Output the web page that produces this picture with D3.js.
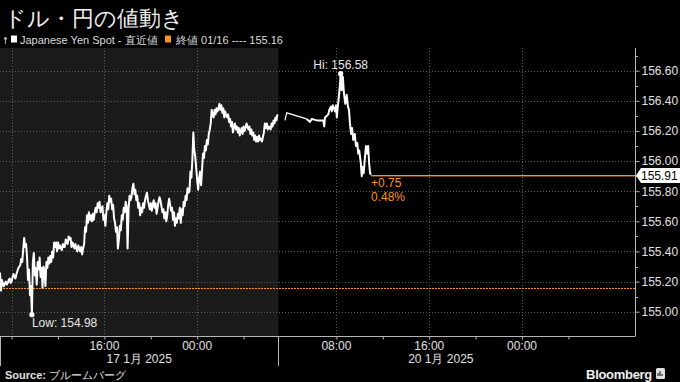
<!DOCTYPE html>
<html><head><meta charset="utf-8">
<script src="https://cdn.jsdelivr.net/npm/d3@7"></script>
<style>
html,body{margin:0;padding:0;background:#000;}
svg{display:block;}
text{font-family:"Liberation Sans",Arial,sans-serif;}
</style></head><body>
<svg id="chart" width="680" height="382"></svg>
<script>
// ---------------- DATA ----------------
const titleText = "ドル・円の値動き";
const seriesName = "Japanese Yen Spot - 直近値";
const prevCloseLegend = "終値 01/16 ---- 155.16";
const prevClose = 155.16;
const changeAbsText = "+0.75";
const changePctText = "0.48%";
const yTickValues = [155.0, 155.2, 155.4, 155.6, 155.8, 156.0, 156.2, 156.4, 156.6];
const yMinorValues = [155.1, 155.3, 155.5, 155.7, 155.9, 156.1, 156.3, 156.5, 156.7];

// Session 1 (17 Jan): 5-minute samples starting 07:00
const session1Start = "2025-01-17T07:00";
const session1StepMin = 5;
const session1Prices = [
155.26,155.14,155.21,155.18,155.17,155.19,155.20,155.18,155.19,155.21,
155.22,155.19,155.20,155.23,155.25,155.23,155.22,155.25,155.27,155.29,
155.30,155.31,155.35,155.33,155.41,155.49,155.43,155.45,155.36,155.21,
155.28,155.11,155.17,154.98,155.33,155.39,155.24,155.29,155.18,155.33,
155.28,155.36,155.23,155.29,155.16,155.30,155.27,155.17,155.33,155.29,
155.36,155.32,155.37,155.33,155.40,155.36,155.46,155.43,155.46,155.40,
155.46,155.42,155.44,155.42,155.41,155.45,155.43,155.43,155.48,155.46,
155.45,155.50,155.48,155.49,155.43,155.46,155.44,155.42,155.45,155.42,
155.40,155.44,155.42,155.40,155.43,155.38,155.42,155.45,155.56,155.53,
155.64,155.59,155.66,155.61,155.64,155.60,155.65,155.61,155.66,155.69,
155.66,155.72,155.69,155.73,155.66,155.68,155.70,155.61,155.64,155.57,
155.66,155.72,155.68,155.77,155.73,155.75,155.68,155.71,155.62,155.59,
155.53,155.56,155.42,155.48,155.57,155.54,155.64,155.61,155.69,155.66,
155.73,155.70,155.42,155.68,155.77,155.74,155.76,155.82,155.85,155.78,
155.81,155.74,155.77,155.69,155.72,155.64,155.69,155.66,155.72,155.69,
155.74,155.77,155.79,155.74,155.71,155.68,155.72,155.67,155.71,155.74,
155.69,155.72,155.65,155.69,155.73,155.76,155.74,155.70,155.66,155.68,
155.62,155.66,155.60,155.64,155.71,155.75,155.71,155.67,155.69,155.61,
155.66,155.57,155.62,155.59,155.65,155.62,155.69,155.59,155.68,155.64,
155.73,155.70,155.77,155.74,155.82,155.79,155.80,155.93,155.89,156.01,
156.19,156.07,156.03,155.95,155.87,155.81,155.89,155.93,155.84,155.94,
156.05,156.02,156.10,156.07,156.14,156.11,156.18,156.21,156.25,156.34,
156.31,156.29,156.34,156.31,156.35,156.33,156.35,156.38,156.34,156.37,
156.32,156.35,156.29,156.33,156.30,156.29,156.31,156.26,156.28,156.23,
156.26,156.19,156.23,156.25,156.21,156.23,156.19,156.22,156.17,156.20,
156.22,156.18,156.23,156.20,156.22,156.25,156.23,156.21,156.23,156.18,
156.21,156.17,156.19,156.14,156.17,156.13,156.16,156.13,156.17,156.14,
156.15,156.13,156.16,156.19,156.25,156.22,156.25,156.21,156.23,156.22,
156.21,156.25,156.23,156.27,156.25,156.29,156.27,156.31
];

// Session 2 (20 Jan)
const session2Times = [
"2025-01-20T03:34","2025-01-20T03:43","2025-01-20T05:26","2025-01-20T05:35","2025-01-20T05:43",
"2025-01-20T05:52","2025-01-20T06:18","2025-01-20T06:52","2025-01-20T06:57","2025-01-20T07:01",
"2025-01-20T07:10","2025-01-20T07:18","2025-01-20T07:23","2025-01-20T07:31","2025-01-20T07:36",
"2025-01-20T07:41","2025-01-20T07:48","2025-01-20T07:53","2025-01-20T07:58","2025-01-20T08:02",
"2025-01-20T08:07","2025-01-20T08:13","2025-01-20T08:19","2025-01-20T08:22","2025-01-20T08:27",
"2025-01-20T08:33","2025-01-20T08:39","2025-01-20T08:46","2025-01-20T08:53","2025-01-20T09:00",
"2025-01-20T09:05","2025-01-20T09:10","2025-01-20T09:16","2025-01-20T09:21","2025-01-20T09:27",
"2025-01-20T09:35","2025-01-20T09:41","2025-01-20T09:48","2025-01-20T09:53","2025-01-20T09:58",
"2025-01-20T10:06","2025-01-20T10:11","2025-01-20T10:16","2025-01-20T10:21","2025-01-20T10:28",
"2025-01-20T10:33","2025-01-20T10:38","2025-01-20T10:44","2025-01-20T10:49","2025-01-20T10:54",
"2025-01-20T10:59"
];
const session2Prices = [
156.27,156.32,156.28,156.27,156.26,
156.28,156.27,156.27,156.23,156.29,
156.30,156.31,156.34,156.36,156.33,
156.37,156.35,156.33,156.37,156.29,
156.36,156.43,156.52,156.58,156.47,
156.56,156.45,156.38,156.44,156.36,
156.34,156.25,156.18,156.22,156.14,
156.18,156.10,156.12,156.05,156.07,
155.99,155.90,155.96,155.92,156.03,
156.10,156.05,156.10,155.99,155.92,
155.91
];

// Axis time structure
const axisBreaks = ["2025-01-17T07:00","2025-01-18T07:00","2025-01-20T03:00","2025-01-21T09:39"];
const minorTickTimes = ["2025-01-17T08:00","2025-01-17T12:00","2025-01-17T16:00","2025-01-17T20:00",
  "2025-01-18T00:00","2025-01-18T04:00","2025-01-20T08:00","2025-01-20T12:00","2025-01-20T16:00",
  "2025-01-20T20:00","2025-01-21T00:00","2025-01-21T04:00"];
const gridTimes = ["2025-01-17T08:00","2025-01-17T16:00","2025-01-18T00:00","2025-01-20T08:00","2025-01-20T16:00","2025-01-21T00:00"];
const labelTimes = ["2025-01-17T16:00","2025-01-18T00:00","2025-01-20T08:00","2025-01-20T16:00","2025-01-21T00:00"];
const dateLabels = [{t:"2025-01-17T19:00", text:"17 1月 2025"}, {t:"2025-01-20T17:00", text:"20 1月 2025"}];

// ---------------- CHART ----------------
const parse = d3.timeParse("%Y-%m-%dT%H:%M");
const fmtHM = d3.timeFormat("%H:%M");
const svg = d3.select("#chart");
const W = 680, H = 382;
const plotTop = 48, plotBottom = 336.5, plotLeft = 0, plotRight = 635;
const ORANGE = "#f7931e";

svg.append("rect").attr("width", W).attr("height", H).attr("fill", "#000");

const x = d3.scaleTime()
  .domain(axisBreaks.map(parse))
  .range([0, 278.4, 278.4, 634]);
const y = d3.scaleLinear().domain([155.0, 156.6]).range([311.7, 70.7]);

const s1start = parse(session1Start);
const s1 = session1Prices.map((p, i) => ({t: d3.timeMinute.offset(s1start, i * session1StepMin), v: p}));
const s2 = session2Times.map((t, i) => ({t: parse(t), v: session2Prices[i]}));
const last = s2[s2.length - 1];

// previous session shading
svg.append("rect")
  .attr("x", x(parse(axisBreaks[0]))).attr("y", plotTop)
  .attr("width", x(parse(axisBreaks[1])) - x(parse(axisBreaks[0])))
  .attr("height", plotBottom - plotTop)
  .attr("fill", "#1b1b1b");

// horizontal gridlines
svg.append("g").selectAll("line").data(yTickValues).join("line")
  .attr("x1", plotLeft).attr("x2", plotRight)
  .attr("y1", d => Math.round(y(d)) + 0.5).attr("y2", d => Math.round(y(d)) + 0.5)
  .attr("stroke", "#5e5e5e").attr("stroke-width", 1).attr("stroke-dasharray", "1,2");

// vertical gridlines
svg.append("g").selectAll("line").data(gridTimes).join("line")
  .attr("x1", d => Math.round(x(parse(d))) + 0.5).attr("x2", d => Math.round(x(parse(d))) + 0.5)
  .attr("y1", plotTop).attr("y2", plotBottom)
  .attr("stroke", "#5e5e5e").attr("stroke-width", 1).attr("stroke-dasharray", "1,2");

// previous close dotted line
svg.append("line")
  .attr("x1", plotLeft).attr("x2", plotRight)
  .attr("y1", Math.round(y(prevClose)) + 0.5).attr("y2", Math.round(y(prevClose)) + 0.5)
  .attr("stroke", ORANGE).attr("stroke-width", 1.2).attr("stroke-dasharray", "2,1");

// last price line (as a thin filled rect for solid colour)
svg.append("rect")
  .attr("x", x(last.t)).attr("width", plotRight - x(last.t))
  .attr("y", Math.round(y(last.v))).attr("height", 1.4)
  .attr("fill", ORANGE);

// price line
const line = d3.line().x(d => x(d.t)).y(d => y(d.v));
svg.append("path").datum(s1).attr("d", line)
  .attr("fill", "none").attr("stroke", "#fff").attr("stroke-width", 2)
  .attr("stroke-linejoin", "round");
svg.append("path").datum(s2.slice(0, 3)).attr("d", line)
  .attr("fill", "none").attr("stroke", "#fff").attr("stroke-width", 1.2);
svg.append("path").datum(s2.slice(2)).attr("d", line)
  .attr("fill", "none").attr("stroke", "#fff").attr("stroke-width", 2)
  .attr("stroke-linejoin", "round");

// hi / low markers
const all = s1.concat(s2);
const hi = all.reduce((a, b) => (b.v > a.v ? b : a));
const lo = all.reduce((a, b) => (b.v < a.v ? b : a));
svg.append("circle").attr("cx", x(hi.t)).attr("cy", y(hi.v)).attr("r", 2.6).attr("fill", "#fff");
svg.append("circle").attr("cx", x(lo.t)).attr("cy", y(lo.v)).attr("r", 2.6).attr("fill", "#fff");
svg.append("text").attr("x", x(hi.t)).attr("y", 69).attr("text-anchor", "middle")
  .attr("font-size", 12).attr("fill", "#e6e6e6").text("Hi: " + hi.v.toFixed(2));
svg.append("text").attr("x", x(lo.t)).attr("y", 327).attr("text-anchor", "start")
  .attr("font-size", 12).attr("fill", "#e6e6e6").text("Low: " + lo.v.toFixed(2));

// change labels
svg.append("text").attr("x", x(last.t)).attr("y", 187).attr("font-size", 12)
  .attr("fill", ORANGE).text(changeAbsText);
svg.append("text").attr("x", x(last.t)).attr("y", 201).attr("font-size", 12)
  .attr("fill", ORANGE).text(changePctText);

// y axis
svg.append("line").attr("x1", plotRight + 0.5).attr("x2", plotRight + 0.5)
  .attr("y1", plotTop).attr("y2", plotBottom).attr("stroke", "#b5b5b5");
const yAxis = d3.axisRight(y).tickValues(yTickValues).tickSize(4).tickPadding(2)
  .tickFormat(d3.format(".2f"));
const gy = svg.append("g").attr("transform", `translate(${plotRight + 0.5},0)`).call(yAxis);
gy.select(".domain").remove();
gy.selectAll(".tick line").attr("stroke", "#b5b5b5");
gy.selectAll(".tick text").attr("fill", "#e0e0e0").attr("font-size", 12)
  .attr("font-family", "Liberation Sans, Arial, sans-serif");
svg.append("g").selectAll("line").data(yMinorValues.filter(v => y(v) > plotTop)).join("line")
  .attr("x1", plotRight + 0.5).attr("x2", plotRight + 3)
  .attr("y1", d => Math.round(y(d)) + 0.5).attr("y2", d => Math.round(y(d)) + 0.5)
  .attr("stroke", "#b5b5b5");

// last price tag
const ly = Math.round(y(last.v)) + 0.5;
svg.append("path")
  .attr("d", `M${plotRight + 1},${ly} L${plotRight + 6},${ly - 7.5} L${W},${ly - 7.5} L${W},${ly + 7.5} L${plotRight + 6},${ly + 7.5} Z`)
  .attr("fill", "#fff");
svg.append("text").attr("x", plotRight + 6).attr("y", ly + 4.5).attr("font-size", 12)
  .attr("fill", "#000").text(last.v.toFixed(2));

// x axis
svg.append("line").attr("x1", 0).attr("x2", plotRight)
  .attr("y1", plotBottom).attr("y2", plotBottom).attr("stroke", "#b5b5b5");
const xAxis = d3.axisBottom(x).tickValues(minorTickTimes.map(parse)).tickSize(3).tickFormat("");
const gx = svg.append("g").attr("transform", `translate(0,${plotBottom})`).call(xAxis);
gx.select(".domain").remove();
gx.selectAll(".tick line").attr("stroke", "#b5b5b5");
svg.append("g").selectAll("text").data(labelTimes).join("text")
  .attr("x", d => x(parse(d))).attr("y", 350).attr("text-anchor", "middle")
  .attr("font-size", 12).attr("fill", "#e0e0e0").text(d => fmtHM(parse(d)));
svg.append("g").selectAll("text").data(dateLabels).join("text")
  .attr("x", d => x(parse(d.t))).attr("y", 363).attr("text-anchor", "middle")
  .attr("font-size", 12).attr("fill", "#e0e0e0")
  .attr("font-family", "Liberation Sans, 'Noto Sans CJK JP', sans-serif").text(d => d.text);
// session separators
[axisBreaks[0], axisBreaks[1]].forEach(t => {
  const xx = Math.max(0.5, Math.round(x(parse(t))) + 0.5);
  svg.append("line").attr("x1", xx).attr("x2", xx).attr("y1", plotBottom).attr("y2", 366)
    .attr("stroke", "#b5b5b5");
});

// title
svg.append("text").attr("x", 4).attr("y", 26).attr("font-size", 22)
  .attr("font-family", "'Noto Sans CJK JP', sans-serif").attr("font-weight", 300)
  .attr("fill", "#f0f0f0").text(titleText);

// legend
const lg = svg.append("g");
lg.append("line").attr("x1", 5.5).attr("x2", 5.5).attr("y1", 37).attr("y2", 44).attr("stroke", "#aaa");
lg.append("circle").attr("cx", 5.5).attr("cy", 38.5).attr("r", 1.6).attr("fill", "#aaa");
lg.append("rect").attr("x", 11).attr("y", 35.5).attr("width", 6).attr("height", 7).attr("fill", "#fff");
lg.append("text").attr("x", 20).attr("y", 43.5).attr("font-size", 11).attr("fill", "#dcdcdc")
  .attr("font-family", "Liberation Sans, 'Noto Sans CJK JP', sans-serif").text(seriesName);
lg.append("rect").attr("x", 165).attr("y", 35.5).attr("width", 6).attr("height", 7).attr("fill", ORANGE);
lg.append("text").attr("x", 176).attr("y", 43.5).attr("font-size", 11).attr("fill", "#dcdcdc")
  .attr("font-family", "Liberation Sans, 'Noto Sans CJK JP', sans-serif").text(prevCloseLegend);

// footer
const ft = svg.append("text").attr("x", 5).attr("y", 379).attr("font-size", 11).attr("fill", "#e0e0e0")
  .attr("font-family", "Liberation Sans, 'Noto Sans CJK JP', sans-serif");
ft.append("tspan").attr("font-weight", "bold").text("Source:");
ft.append("tspan").text(" ブルームバーグ");
svg.append("text").attr("x", 652).attr("y", 379).attr("text-anchor", "end")
  .attr("font-size", 13).attr("font-weight", "bold").attr("fill", "#f0f0f0")
  .attr("letter-spacing", "-0.3").text("Bloomberg");
svg.append("rect").attr("x", 656).attr("y", 368).attr("width", 9).attr("height", 11).attr("rx", 1.5).attr("fill", "#e0e0e0");
svg.append("path").attr("d", "M658,376 v-3 M660,376 v-5 M662,376 v-2").attr("stroke", "#000").attr("stroke-width", 1);
</script>
</body></html>
